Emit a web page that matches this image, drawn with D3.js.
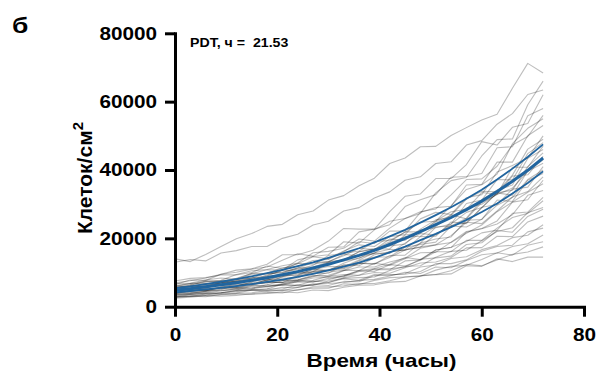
<!DOCTYPE html>
<html>
<head>
<meta charset="utf-8">
<script src="https://cdn.jsdelivr.net/npm/d3@7"></script>
<style>
  body { margin: 0; background: #fff; }
  text { font-family: "Liberation Sans", Arial, sans-serif; font-weight: bold; fill: #000; }
</style>
</head>
<body>
<svg id="chart" width="599" height="378"></svg>
<script>
// time points, hours
const hours = [0, 3, 6, 9, 12, 15, 18, 21, 24, 27, 30, 33, 36, 39, 42, 45, 48, 51, 54, 57, 60, 63, 66, 69, 72];

// exponential fit and its band, thousands of cells/cm2
const fitMean  = [4.8, 5.28, 5.81, 6.39, 7.02, 7.72, 8.49, 9.34, 10.27, 11.3, 12.4, 13.7, 15.0, 16.5, 18.2, 20.0, 22.0, 24.0, 26.1, 28.4, 30.9, 33.7, 36.7, 39.9, 43.5];
const fitUpper = [5.4, 5.95, 6.6, 7.3, 8.1, 8.9, 9.8, 10.8, 11.9, 13.0, 14.3, 15.7, 17.1, 18.8, 20.6, 22.5, 24.6, 26.8, 29.1, 31.6, 34.2, 37.2, 40.4, 43.8, 47.5];
const fitLower = [4.2, 4.6, 5.05, 5.5, 6.0, 6.6, 7.25, 7.95, 8.7, 9.6, 10.6, 11.7, 12.9, 14.3, 15.9, 17.6, 19.5, 21.3, 23.3, 25.4, 27.7, 30.2, 33.1, 36.2, 39.6];

// individual wells, thousands of cells/cm2
const wells = [
  [14.0,13.2,15.3,17.6,19.9,21.4,23.5,24.1,26.9,28.0,31.2,32.5,35.4,37.6,41.9,43.5,46.8,46.9,50.1,52.4,54.6,56.3,63.9,71.2,68.4],
  [13.0,13.8,13.4,15.7,16.4,17.6,17.6,20.0,21.2,23.9,25.0,28.0,29.0,31.8,33.6,37.0,38.0,41.9,42.4,47.3,48.6,53.4,56.5,62.1,63.4],
  [6.5,7.8,7.7,9.5,10.7,11.1,12.4,15.2,15.2,16.5,19.2,22.9,22.7,22.7,27.8,32.3,33.0,37.5,37.5,41.6,48.3,47.3,52.5,53.6,62.0],
  [7.0,7.6,8.4,9.5,10.1,11.0,11.6,13.6,15.5,14.8,17.4,17.5,21.9,22.7,24.0,29.3,31.3,32.8,37.9,38.1,39.0,46.5,46.8,55.9,58.0],
  [5.5,6.2,7.5,7.4,8.3,9.7,10.8,10.7,13.7,14.7,15.2,19.0,18.6,22.5,25.0,25.8,27.3,33.3,36.9,37.8,44.1,48.9,49.1,59.1,66.0],
  [6.0,6.8,7.4,7.7,9.4,10.5,10.9,12.0,12.8,15.8,16.2,17.1,19.8,19.2,23.0,25.8,27.8,28.6,32.7,37.2,37.4,41.1,47.3,49.8,56.0],
  [5.0,5.5,6.3,7.0,8.1,8.4,9.8,11.4,11.8,13.5,13.8,16.1,19.0,18.5,22.1,22.2,27.6,29.0,29.4,35.6,35.8,42.3,42.3,50.0,53.0],
  [7.5,8.3,8.5,9.3,9.3,10.0,11.9,11.2,12.6,14.6,14.0,16.3,18.1,17.6,20.5,21.1,25.7,27.6,27.0,31.9,32.8,39.4,41.3,43.5,50.0],
  [4.5,5.3,5.3,6.9,7.4,7.8,9.3,10.5,10.8,12.1,15.0,15.6,16.3,19.0,19.4,21.8,24.7,25.0,29.5,34.3,35.7,38.8,47.7,52.2,55.0],
  [6.0,6.5,7.2,7.5,7.8,9.5,9.6,10.0,11.3,12.9,13.2,13.7,16.1,16.8,19.0,21.9,21.9,24.8,26.7,31.5,33.8,33.6,38.5,46.1,49.0],
  [5.2,5.7,6.1,7.1,7.4,8.4,8.6,9.7,11.1,11.2,12.9,13.7,16.1,17.0,16.9,21.0,21.6,25.1,27.8,28.5,33.4,32.9,40.8,40.8,47.0],
  [4.8,5.9,5.8,7.0,7.9,8.4,9.0,10.7,12.7,12.4,13.2,14.9,17.1,16.7,19.8,19.4,22.7,25.4,26.1,28.9,30.0,33.0,38.2,38.6,44.0],
  [3.8,4.7,4.6,5.7,5.9,7.3,8.3,8.8,10.0,10.2,12.8,13.4,14.1,16.7,17.8,18.3,22.5,23.1,24.2,30.2,31.2,37.2,37.1,44.8,48.0],
  [6.8,6.9,7.8,8.4,8.0,9.8,9.7,10.0,11.4,11.6,13.1,15.3,14.9,15.6,18.7,20.5,20.6,23.5,26.9,25.7,30.5,32.8,34.7,39.6,42.0],
  [5.5,6.0,6.8,6.5,7.4,7.3,9.0,9.1,9.2,11.0,10.6,12.7,14.3,15.6,15.6,18.6,21.4,21.0,24.2,27.6,29.0,33.3,34.1,41.0,45.0],
  [4.2,4.8,4.8,5.7,6.6,6.6,7.8,7.6,9.1,10.4,10.7,12.2,12.5,15.2,16.1,16.7,20.5,20.6,24.8,24.3,29.1,29.9,34.4,35.0,41.0],
  [3.5,3.9,4.5,5.1,6.1,6.7,6.9,8.8,9.5,10.8,11.8,11.7,13.7,15.8,16.8,16.5,18.6,23.3,23.6,25.9,31.2,34.1,35.6,43.4,46.0],
  [5.8,6.0,6.6,7.4,7.1,8.0,7.7,9.2,9.8,9.9,10.9,11.3,13.4,14.5,14.6,17.4,18.2,18.9,23.6,23.3,25.6,29.7,32.0,37.2,40.0],
  [4.0,4.6,5.1,5.3,5.6,6.6,7.2,7.1,8.9,9.7,9.8,12.2,12.0,14.3,16.1,16.6,17.4,21.2,23.7,24.6,28.9,33.3,32.6,39.7,43.0],
  [6.2,6.8,6.7,6.7,7.6,8.1,7.9,8.4,8.4,10.3,10.5,11.1,12.7,12.6,14.4,16.6,17.5,18.1,20.8,24.7,24.3,28.0,32.1,33.7,38.0],
  [3.2,3.6,4.1,4.6,5.3,5.4,6.4,7.6,7.8,8.9,9.2,10.6,12.7,12.4,15.0,15.1,18.6,19.8,20.4,25.3,25.5,31.2,30.8,37.0,39.0],
  [4.6,5.3,5.1,5.9,5.6,6.3,7.2,7.1,7.9,9.2,8.8,10.5,11.6,11.6,13.1,14.2,17.1,18.1,18.8,21.5,23.9,27.8,30.6,31.3,37.0],
  [5.0,5.3,5.5,6.3,6.7,6.5,7.9,7.9,7.7,8.8,10.1,10.7,10.6,12.7,12.1,14.0,15.8,15.9,18.9,22.0,22.9,25.1,30.6,33.5,36.0],
  [3.6,3.9,4.4,4.8,4.9,6.0,6.3,6.3,7.4,8.4,8.6,9.0,10.6,11.2,12.4,14.4,13.8,16.6,17.3,21.8,22.8,24.2,26.9,32.6,34.0],
  [4.4,4.9,4.7,5.6,5.3,6.2,5.9,6.7,7.2,7.2,8.3,8.8,10.3,10.9,10.8,13.4,13.7,16.6,17.4,19.1,21.6,22.4,27.3,27.7,32.0],
  [2.8,3.5,3.4,4.1,4.7,5.0,5.2,6.6,7.6,7.3,7.9,9.1,10.5,10.3,12.3,11.9,13.6,16.1,16.1,19.4,19.4,23.0,26.1,27.3,31.0],
  [5.6,6.3,5.8,6.4,6.1,7.1,7.4,7.1,7.5,7.7,8.9,9.4,9.2,11.1,11.1,11.6,13.9,14.3,14.8,18.2,18.7,22.3,21.8,26.4,28.5],
  [3.0,3.0,3.7,3.9,4.0,4.8,5.2,5.2,6.4,6.2,7.5,8.3,8.5,8.7,10.6,11.8,12.0,14.5,16.2,16.5,19.3,22.0,23.1,27.5,29.0],
  [4.0,4.4,4.7,4.8,5.1,5.2,6.0,6.3,6.3,7.5,7.1,8.5,9.2,10.0,9.8,11.4,12.8,13.1,14.4,17.2,17.3,20.6,20.5,24.8,26.5],
  [2.6,3.1,2.9,3.6,3.9,4.1,4.7,4.7,5.6,6.5,6.2,7.4,7.3,9.1,9.2,9.7,11.6,12.2,14.1,14.6,16.7,17.9,20.2,20.9,24.0],
  [3.4,3.6,3.9,4.1,4.7,4.8,4.8,5.7,5.6,6.7,6.8,7.1,7.7,9.4,9.4,9.5,10.3,12.6,12.6,13.7,16.2,17.6,18.0,21.9,23.0],
  [4.8,5.3,4.9,5.5,5.7,5.5,5.8,6.5,6.1,6.4,7.1,8.2,7.7,8.0,9.0,10.1,9.7,11.6,11.4,13.5,15.2,15.7,17.6,18.4,21.0],
  [2.5,2.8,3.2,3.1,3.3,3.8,4.2,4.0,5.0,5.4,5.4,6.7,6.5,7.7,8.5,8.7,8.9,10.7,11.8,12.1,13.8,15.8,15.1,18.0,19.0],
  [3.8,4.2,3.9,4.1,4.4,4.9,4.5,4.9,4.8,5.8,5.8,6.1,6.8,6.8,7.6,8.7,9.1,9.4,10.5,12.4,12.0,13.7,15.3,16.0,17.5],
  [3.0,3.1,3.3,3.5,3.7,3.6,3.9,4.3,4.1,4.9,4.7,5.7,6.3,6.4,7.2,7.4,9.0,9.4,9.6,12.0,11.8,14.0,13.2,14.5,14.5]
];

const xTicks = [0, 20, 40, 60, 80];
const yTicks = [0, 20000, 40000, 60000, 80000];
const panelLabel = "б";
const xTitle = "Время (часы)";
const yTitle = "Клеток/см";
const pdtText = "PDT, ч =  21.53";

const SX = 1.15;          // the figure's type is a bit wider than Liberation Sans
const BLUE = "#21659f";

const svg = d3.select("#chart");

const x = d3.scaleLinear().domain([0, 80]).range([175, 584]);
const y = d3.scaleLinear().domain([0, 80000]).range([306.7, 33.3]);

function stretch(sel, k) {
  sel.each(function() {
    const w = this.getComputedTextLength();
    d3.select(this).attr("textLength", w * k).attr("lengthAdjust", "spacingAndGlyphs");
  });
}

const line = d3.line()
  .x((d, i) => x(hours[i]))
  .y(d => y(d * 1000));

// wells
svg.append("g")
  .selectAll("path")
  .data(wells)
  .join("path")
  .attr("d", line)
  .attr("fill", "none")
  .attr("stroke", "#000")
  .attr("stroke-opacity", 0.26)
  .attr("stroke-width", 1.1)
  .attr("stroke-linejoin", "round");

// fit band and fit
svg.append("g")
  .selectAll("path")
  .data([fitUpper, fitLower])
  .join("path")
  .attr("d", line)
  .attr("fill", "none")
  .attr("stroke", BLUE)
  .attr("stroke-width", 1.8);

svg.append("path")
  .datum(fitMean)
  .attr("d", line)
  .attr("fill", "none")
  .attr("stroke", BLUE)
  .attr("stroke-width", 3);

// axes
const xAxis = svg.append("g")
  .attr("transform", `translate(0,${y(0)})`)
  .call(d3.axisBottom(x).tickValues(xTicks).tickSize(10).tickSizeOuter(0).tickPadding(12));

const yAxis = svg.append("g")
  .attr("transform", `translate(${x(0)},0)`)
  .call(d3.axisLeft(y).tickValues(yTicks).tickSize(10).tickSizeOuter(0).tickPadding(8).tickFormat(d3.format("d")));

[xAxis, yAxis].forEach(g => {
  g.select(".domain").attr("stroke", "#000").attr("stroke-width", 3).attr("stroke-linecap", "square");
  g.selectAll(".tick line").attr("stroke", "#000").attr("stroke-width", 3);
  g.selectAll(".tick text")
    .attr("fill", "#000")
    .style("font-size", "18px")
    .style("font-family", "'Liberation Sans', Arial, sans-serif")
    .style("font-weight", "bold");
  g.attr("font-family", null).attr("font-size", null);
});
stretch(xAxis.selectAll(".tick text"), SX);
stretch(yAxis.selectAll(".tick text"), SX);

// titles
const xt = svg.append("text")
  .attr("x", 381.5)
  .attr("y", 367)
  .attr("text-anchor", "middle")
  .style("font-size", "19px")
  .text(xTitle);
stretch(xt, 1.18);

const yt = svg.append("text")
  .attr("transform", "translate(91.5,178) rotate(-90)")
  .attr("text-anchor", "middle")
  .style("font-size", "21px");
yt.append("tspan").text(yTitle);
yt.append("tspan").attr("dy", -9).style("font-size", "15px").text("2");

const pl = svg.append("text")
  .attr("x", 12)
  .attr("y", 33.3)
  .style("font-size", "22px")
  .text(panelLabel);
stretch(pl, 1.2);

const pdt = svg.append("text")
  .attr("x", 190)
  .attr("y", 46.7)
  .style("font-size", "12px")
  .style("white-space", "pre")
  .text(pdtText);
stretch(pdt, 1.18);
</script>
</body>
</html>
